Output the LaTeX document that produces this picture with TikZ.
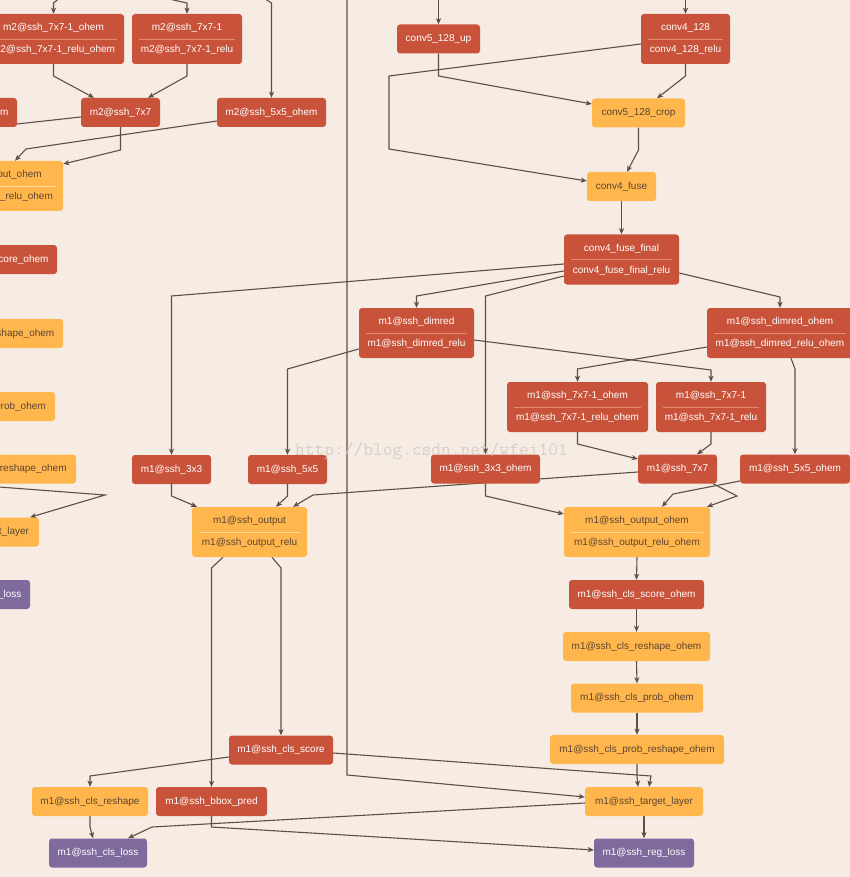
\documentclass[tikz,border=0pt]{standalone}
\usepackage{fontspec}
\setmainfont{Liberation Sans}
\usetikzlibrary{arrows.meta}
\definecolor{bgcol}{HTML}{F6ECE3}
\definecolor{redc}{HTML}{C9533A}
\definecolor{yelc}{HTML}{FFB74D}
\definecolor{purc}{HTML}{7F6A9E}
\definecolor{edgec}{HTML}{5E4E48}
\definecolor{ytext}{HTML}{5C4433}
\definecolor{redsep}{HTML}{DE8A74}
\definecolor{yelsep}{HTML}{FFD9A0}
\definecolor{wmark}{HTML}{CFC8C2}
\pgfdeclarelayer{bglayer}
\pgfdeclarelayer{edgelayer}
\pgfsetlayers{bglayer,edgelayer,main}
\tikzset{
  boxbase/.style={rounded corners=3pt, inner sep=0pt, font=\fontsize{10}{12}\selectfont,
    text height=7.2pt, text depth=2pt, minimum height=29pt},
  rbox/.style={boxbase, fill=redc, text=white},
  ybox/.style={boxbase, fill=yelc, text=ytext},
  pbox/.style={boxbase, fill=purc, text=white},
  txtbase/.style={inner sep=0pt, font=\fontsize{10}{12}\selectfont, text height=7.2pt, text depth=2pt},
  txtrbox/.style={txtbase, text=white},
  txtybox/.style={txtbase, text=ytext},
  seprbox/.style={draw=redsep, line width=0.8pt},
  sepybox/.style={draw=yelsep, line width=0.8pt},
  edge/.style={draw=edgec, line width=1.1pt, -{Stealth[length=6pt,width=5pt,inset=1.5pt]}},
  plainedge/.style={draw=edgec, line width=1.1pt},
}
% #1 name, #2 style, #3 x, #4 y, #5 width, #6 line1, #7 line2
\newcommand\mkTwoBox[7]{%
  \node[#2, minimum width=#5pt, minimum height=50pt] (#1) at (#3,#4) {};
  \draw[sep#2] ([xshift=7pt]#1.west) -- ([xshift=-7pt]#1.east);
  \node[txt#2] (#1-a) at ([yshift=11pt]#1.center) {#6};
  \node[txt#2] (#1-b) at ([yshift=-11pt]#1.center) {#7};
}
\begin{document}
\begin{tikzpicture}[x=1pt, y=-1pt]
\useasboundingbox (0,0) rectangle (850,877);
\begin{pgfonlayer}{bglayer}
  \fill[bgcol] (0,0) rectangle (850,877);
\end{pgfonlayer}

% ---------- top block ----------
\node[rbox, minimum width=83pt] (c5up) at (438.5,39) {conv5\_128\_up};
\mkTwoBox{c4128}{rbox}{685.5}{39}{89}{conv4\_128}{conv4\_128\_relu}
\node[ybox, minimum width=93pt] (crop) at (638.5,113) {conv5\_128\_crop};
\node[ybox, minimum width=69pt] (fuse) at (621.5,186.5) {conv4\_fuse};
\mkTwoBox{ffinal}{rbox}{621.5}{259.5}{115}{conv4\_fuse\_final}{conv4\_fuse\_final\_relu}

% ---------- m1 ----------
\mkTwoBox{dimred}{rbox}{416.5}{333}{115}{m1@ssh\_dimred}{m1@ssh\_dimred\_relu}
\mkTwoBox{dimredo}{rbox}{780}{333}{146}{m1@ssh\_dimred\_ohem}{m1@ssh\_dimred\_relu\_ohem}
\mkTwoBox{sso}{rbox}{577.5}{407}{141}{m1@ssh\_7x7-1\_ohem}{m1@ssh\_7x7-1\_relu\_ohem}
\mkTwoBox{ss}{rbox}{711}{407}{110}{m1@ssh\_7x7-1}{m1@ssh\_7x7-1\_relu}
\node[rbox, minimum width=109pt] (tho) at (485.5,469) {m1@ssh\_3x3\_ohem};
\node[rbox, minimum width=79pt] (sev) at (677.5,469) {m1@ssh\_7x7};
\node[rbox, minimum width=110pt] (fvo) at (795,469) {m1@ssh\_5x5\_ohem};
\node[rbox, minimum width=79pt] (th) at (171.5,469.5) {m1@ssh\_3x3};
\node[rbox, minimum width=79pt] (fv) at (287.5,469.5) {m1@ssh\_5x5};
\mkTwoBox{outp}{ybox}{249.5}{532}{115}{m1@ssh\_output}{m1@ssh\_output\_relu}
\mkTwoBox{outo}{ybox}{637}{532}{146}{m1@ssh\_output\_ohem}{m1@ssh\_output\_relu\_ohem}
\node[rbox, minimum width=135pt] (cso) at (636.5,594.5) {m1@ssh\_cls\_score\_ohem};
\node[ybox, minimum width=147pt] (cro) at (636.5,646.5) {m1@ssh\_cls\_reshape\_ohem};
\node[ybox, minimum width=132pt] (cpo) at (637,698) {m1@ssh\_cls\_prob\_ohem};
\node[ybox, minimum width=174pt] (cpro) at (637,749.5) {m1@ssh\_cls\_prob\_reshape\_ohem};
\node[rbox, minimum width=104pt] (cs) at (281,750) {m1@ssh\_cls\_score};
\node[ybox, minimum width=116pt] (cr) at (90,801.5) {m1@ssh\_cls\_reshape};
\node[rbox, minimum width=111pt] (bb) at (211.5,801.5) {m1@ssh\_bbox\_pred};
\node[pbox, minimum width=98pt] (cl) at (98,853) {m1@ssh\_cls\_loss};
\node[ybox, minimum width=118pt] (tl) at (644,801.5) {m1@ssh\_target\_layer};
\node[pbox, minimum width=100pt] (rl) at (644,853) {m1@ssh\_reg\_loss};

% ---------- m2 (partly outside) ----------
\mkTwoBox{mso}{rbox}{53.5}{39}{141}{m2@ssh\_7x7-1\_ohem}{m2@ssh\_7x7-1\_relu\_ohem}
\mkTwoBox{mss}{rbox}{187}{39}{110}{m2@ssh\_7x7-1}{m2@ssh\_7x7-1\_relu}
\node[rbox, minimum width=79pt] (msev) at (120.5,112.5) {m2@ssh\_7x7};
\node[rbox, minimum width=109pt] (mtho) at (-37.5,112.5) {m2@ssh\_3x3\_ohem};
\node[rbox, minimum width=109pt] (mfvo) at (271.5,112.5) {m2@ssh\_5x5\_ohem};
\mkTwoBox{mouto}{ybox}{-10}{186}{146}{m2@ssh\_output\_ohem}{m2@ssh\_output\_relu\_ohem}
\node[rbox, minimum width=135pt] (mcso) at (-10.5,259.5) {m2@ssh\_cls\_score\_ohem};
\node[ybox, minimum width=147pt] (mcro) at (-10.5,333.5) {m2@ssh\_cls\_reshape\_ohem};
\node[ybox, minimum width=132pt] (mcpo) at (-11,406.5) {m2@ssh\_cls\_prob\_ohem};
\node[ybox, minimum width=174pt] (mcpro) at (-11,469) {m2@ssh\_cls\_prob\_reshape\_ohem};
\node[ybox, minimum width=118pt] (mtl) at (-20,532) {m2@ssh\_target\_layer};
\node[pbox, minimum width=100pt] (mrl) at (-20,594.5) {m2@ssh\_reg\_loss};

% ---------- connectors ----------
\begin{pgfonlayer}{edgelayer}
  \coordinate (inA) at (438.5,-3);
  \coordinate (inB) at (685.5,-3);
  \coordinate (inC) at (347,-3);
  \coordinate (inD) at (61,-3);
  \coordinate (inE) at (160,-3);
  \coordinate (inF) at (262,-3);
  \coordinate (mleft) at (-120,139);
  \coordinate (mscore) at (-120,478);
  \draw[edge] (inA) -- (c5up.north);
  \draw[edge] (inB) -- (c4128.north);
  \draw[edge] (inC) -- (347,775) -- ([yshift=4.5pt]tl.west);
  \draw[edge] (inD) -- (53.5,3) -- (mso.north);
  \draw[edge] (inE) -- (187,3) -- (mss.north);
  \draw[edge] (inF) -- (271.5,3) -- (mfvo.north);

  \draw[edge] (c5up.south) -- (438.5,76) -- ([yshift=9pt]crop.west);
  \draw[edge] (c4128.south) -- (685.5,76) -- ([xshift=18.5pt]crop.north);
  \draw[edge] ([yshift=-5pt]c4128.west) -- (389,76) -- (389,149) -- ([yshift=5.5pt]fuse.west);
  \draw[edge] (crop.south) -- (638.5,150) -- ([xshift=5.5pt]fuse.north);
  \draw[edge] (fuse.south) -- (ffinal.north);

  \draw[edge] ([yshift=-4.5pt]ffinal.west) -- (171.5,296) -- (th.north);
  \draw[edge] ([yshift=-11.5pt]ffinal.west) -- (416.5,296) -- (dimred.north);
  \draw[edge] ([yshift=-16.5pt]ffinal.west) -- (485.5,296) -- (tho.north);
  \draw[edge] ([yshift=-13.5pt]ffinal.east) -- (780,297) -- (dimredo.north);

  \draw[edge] ([yshift=-14pt]dimredo.west) -- (577.5,369) -- (sso.north);
  \draw[edge] ([yshift=-7pt]dimred.east) -- (711,370) -- (ss.north);
  \draw[edge] ([xshift=11pt]dimredo.south) -- (795,369) -- (fvo.north);
  \draw[edge] ([yshift=-16pt]dimred.west) -- (287.5,369) -- (fv.north);

  \draw[edge] (sso.south) -- (577.5,444) -- ([yshift=10pt]sev.west);
  \draw[edge] (ss.south) -- (711,444) -- ([xshift=19.5pt]sev.north);
  \draw[edge] ([yshift=-3pt]sev.west) -- (313,495) -- ([xshift=43.5pt]outp.north);
  \draw[edge] ([xshift=35.5pt]sev.south) -- (737,496) -- ([xshift=70pt]outo.north);
  \draw[edge] ([yshift=-12pt]fvo.west) -- (673,494) -- ([xshift=25pt]outo.north);
  \draw[edge] (tho.south) -- (485.5,496) -- ([yshift=18pt]outo.west);
  \draw[edge] (th.south) -- (171.5,496) -- ([xshift=-52.5pt]outp.north);
  \draw[edge] (fv.south) -- (287.5,496) -- ([xshift=26.5pt]outp.north);

  \draw[edge] ([xshift=-26.5pt]outp.south) -- (211.5,568) -- (bb.north);
  \draw[edge] ([xshift=22.5pt]outp.south) -- (281,568) -- (cs.north);
  \draw[edge] (outo.south) -- (cso.north);
  \draw[edge] (cso.south) -- (cro.north);
  \draw[edge] (cro.south) -- (cpo.north);
  \draw[edge] (cpo.south) -- (cpro.north);
  \draw[edge] (cpro.south) -- (637,776) -- ([xshift=-6pt]tl.north);
  \draw[edge] ([yshift=-3pt]cs.east) -- (651,776) -- ([xshift=5pt]tl.north);
  \draw[edge] ([yshift=-7pt]cs.west) -- (90,776) -- (cr.north);
  \draw[edge] (cr.south) -- (90,827) -- ([xshift=-5pt]cl.north);
  \draw[edge] ([yshift=-1.5pt]tl.west) -- (152,827) -- ([xshift=30pt]cl.north);
  \draw[edge] (bb.south) -- (211.5,827) -- ([yshift=3pt]rl.west);
  \draw[edge] (tl.south) -- (rl.north);

  \draw[edge] (mso.south) -- (53.5,76) -- ([xshift=-26.5pt]msev.north);
  \draw[edge] (mss.south) -- (187,76) -- ([xshift=27.5pt]msev.north);
  \draw[plainedge] ([yshift=-4.5pt]msev.west) -- (mleft);
  \draw[edge] (msev.south) -- (120.5,150) -- ([yshift=22pt]mouto.east);
  \draw[edge] ([yshift=-8.5pt]mfvo.west) -- (26,149) -- ([xshift=25pt]mouto.north);
  \draw[edge] (mscore) -- (105,495) -- ([xshift=50pt]mtl.north);
\end{pgfonlayer}

% watermark
\node[anchor=base west, inner sep=0pt, text=wmark, text opacity=0.8,
      font=\fontsize{18.9}{20}\ttfamily] (wm) at (295,455) {http://blog.csdn.net/wfei101};
\end{tikzpicture}
\end{document}
